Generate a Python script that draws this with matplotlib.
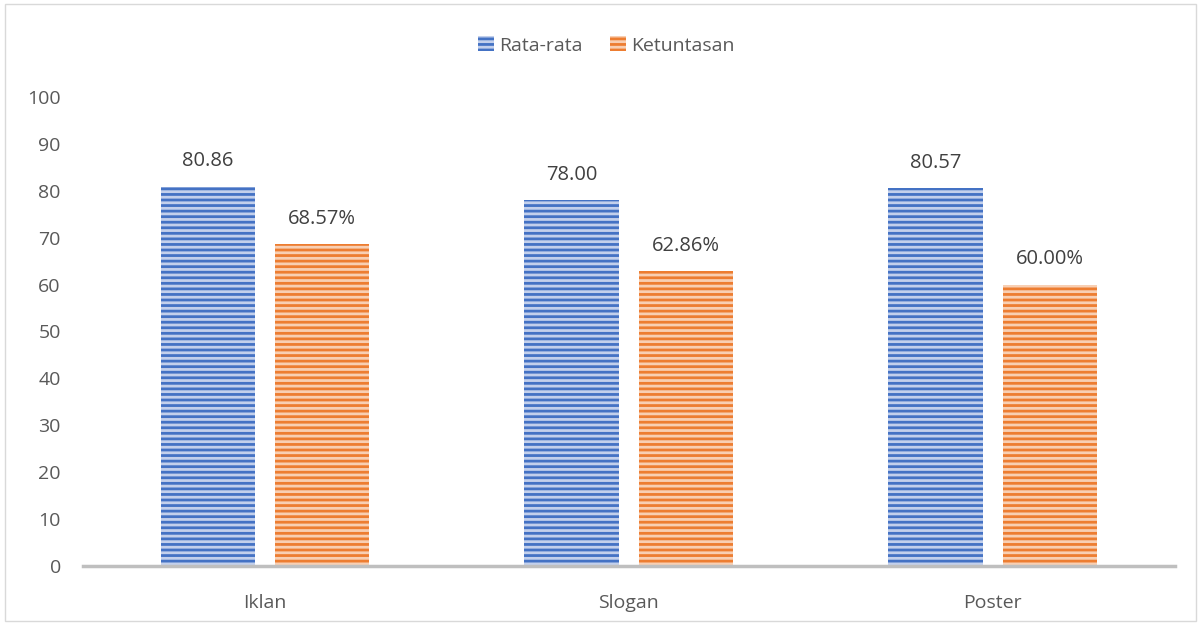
import numpy as np
import matplotlib.pyplot as plt
from matplotlib.patches import Rectangle

categories = ["Iklan", "Slogan", "Poster"]
rata_rata = [80.86, 78.00, 80.57]
ketuntasan = [68.57, 62.86, 60.00]
rata_labels = ["80.86", "78.00", "80.57"]
ketuntasan_labels = ["68.57%", "62.86%", "60.00%"]

plt.rcParams['font.family'] = ['Open Sans', 'DejaVu Sans']
plt.rcParams['hatch.linewidth'] = 2.0
txt = '#595959'

fig = plt.figure(figsize=(12.01, 6.23), dpi=100)
ax = fig.add_axes([0.0691, 0.0915, 0.909, 0.7528])

x = np.arange(len(categories))
w = 0.26
off = 0.157
b1 = ax.bar(x - off, rata_rata, w, color='#4472C4', edgecolor='#c3d0ec', hatch='---', lw=0, label='Rata-rata')
b2 = ax.bar(x + off, ketuntasan, w, color='#ED7D31', edgecolor='#f8cfb3', hatch='---', lw=0, label='Ketuntasan')

# data labels above each bar
for xi, v, s in zip(x - off, rata_rata, rata_labels):
    ax.text(xi, v + 3.3, s, ha='center', va='bottom', fontsize=14.5, color='#404040')
for xi, v, s in zip(x + off, ketuntasan, ketuntasan_labels):
    ax.text(xi, v + 3.3, s, ha='center', va='bottom', fontsize=14.5, color='#404040')

ax.set_xlim(-0.5, 2.5)
ax.set_ylim(0, 100)
ax.set_yticks(np.arange(0, 101, 10))
ax.set_xticks(x)
ax.set_xticklabels(categories)
ax.tick_params(axis='both', length=0, labelsize=14, colors=txt)
ax.tick_params(axis='y', pad=16)
ax.tick_params(axis='x', pad=20)
for s in ['top', 'right', 'left']:
    ax.spines[s].set_visible(False)
ax.spines['bottom'].set_color('#BFBFBF')
ax.spines['bottom'].set_linewidth(2.5)

leg = fig.legend(loc='center', bbox_to_anchor=(0.505, 0.927), ncol=2, frameon=False,
                 fontsize=14, handlelength=0.8, handleheight=0.8, handletextpad=0.3,
                 columnspacing=1.4)
for t in leg.get_texts():
    t.set_color(txt)

fig.patches.append(Rectangle((0.004, 0.004), 0.992, 0.99, transform=fig.transFigure,
                             fill=False, edgecolor='#D9D9D9', lw=1))

fig.savefig('out.png', dpi=100)
